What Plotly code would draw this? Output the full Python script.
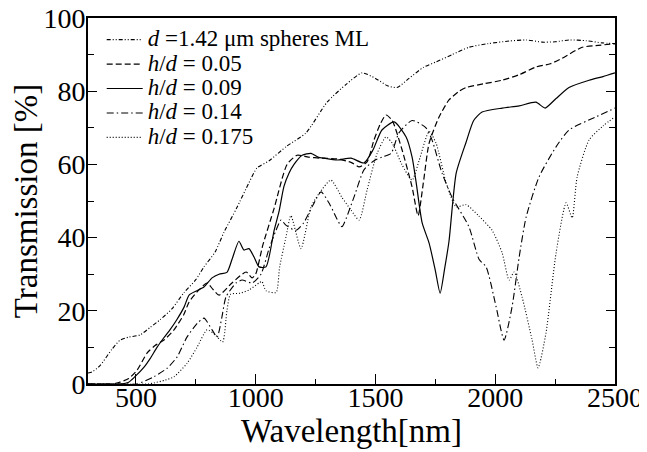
import plotly.graph_objects as go

# d = 1.42 um spheres ML
wl_ml = [300, 317, 350, 400, 434, 470, 517, 560, 600, 650, 701, 750, 784, 830, 868, 920, 972, 1005, 1056, 1130, 1210, 1298, 1380, 1444, 1500, 1550, 1590, 1640, 1700, 1753, 1820, 1890, 1970, 2058, 2130, 2196, 2250, 2308, 2380, 2446, 2500]
t_ml = [3, 3.3, 5, 9.5, 12, 12.8, 13.4, 15.5, 17.5, 20.5, 25, 28.5, 32, 36, 41.5, 48, 55, 59, 61, 65, 68.6, 77, 82, 85, 83.5, 81.5, 81, 83.5, 86.5, 88, 90, 92, 93, 93.7, 94, 93.4, 93.5, 94, 93.8, 93.2, 93]

# h/d = 0.05
wl_005 = [300, 400, 434, 470, 505, 547, 580, 617, 659, 700, 722, 760, 797, 820, 847, 901, 960, 985, 1000, 1030, 1077, 1131, 1173, 1220, 1273, 1340, 1400, 1432, 1465, 1494, 1520, 1544, 1570, 1611, 1653, 1678, 1700, 1724, 1766, 1807, 1850, 1878, 1950, 2029, 2100, 2170, 2230, 2279, 2363, 2430, 2500]
t_005 = [0, 0, 0.5, 1.5, 3.8, 8.5, 10.5, 12, 14.8, 19, 22.4, 25.5, 27.6, 26, 24.3, 27.6, 30.6, 29, 30, 38, 48, 60, 62.5, 62, 61.7, 61.5, 60.5, 59.3, 60.7, 66.7, 71, 73.5, 72, 64, 53.8, 46, 55, 65.8, 73, 77.6, 80, 81, 82, 83, 84.5, 86.6, 87.5, 89, 92, 92.5, 93]

# h/d = 0.09
wl_009 = [300, 400, 434, 470, 496, 534, 560, 588, 615, 642, 670, 701, 722, 755, 784, 818, 847, 880, 901, 930, 951, 972, 993, 1014, 1043, 1077, 1097, 1118, 1139, 1160, 1194, 1231, 1260, 1285, 1340, 1398, 1452, 1490, 1527, 1578, 1628, 1653, 1670, 1695, 1724, 1750, 1770, 1790, 1807, 1837, 1878, 1910, 1945, 2029, 2100, 2170, 2208, 2254, 2308, 2392, 2450, 2500]
t_009 = [0, 0, 0, 0.5, 2, 4.6, 7, 10, 12.5, 14.8, 17.5, 21, 24.3, 25.5, 26.5, 29, 30, 30.5, 34, 39, 36.6, 37, 34.7, 32, 32, 42, 47, 54, 57.6, 60, 62.5, 63, 62, 61.7, 61.2, 61.7, 60.4, 64, 69.4, 71.6, 67.5, 62, 55, 44, 38.5, 31, 24.8, 32, 39, 57.6, 66, 72, 74.3, 75.4, 76, 77, 75.4, 78, 81, 83, 84, 85]

# h/d = 0.14
wl_014 = [300, 450, 505, 576, 630, 672, 713, 755, 784, 818, 839, 859, 876, 918, 943, 985, 1022, 1056, 1085, 1106, 1126, 1168, 1200, 1240, 1273, 1310, 1340, 1360, 1410, 1452, 1494, 1527, 1565, 1598, 1653, 1711, 1736, 1778, 1820, 1890, 1933, 1962, 2004, 2037, 2070, 2100, 2129, 2183, 2254, 2308, 2421, 2500]
t_014 = [0, 0, 0, 2, 4.3, 7.4, 12.8, 16.5, 18, 14.8, 12.8, 18.3, 23.8, 27.6, 28.4, 27.6, 30, 37, 42, 44.8, 43.4, 42, 44, 49, 52.5, 49, 45, 43, 51, 58.5, 61, 62, 63, 68.6, 72, 70, 66.7, 57.6, 51, 43, 34, 32, 21, 12, 21, 34.7, 45.6, 56.6, 64.8, 69.4, 73, 75.4]

# h/d = 0.175
wl_0175 = [300, 550, 576, 620, 659, 713, 755, 797, 830, 862, 880, 895, 935, 972, 1014, 1026, 1043, 1085, 1100, 1126, 1147, 1189, 1231, 1264, 1314, 1360, 1398, 1432, 1465, 1507, 1544, 1570, 1610, 1653, 1682, 1724, 1753, 1795, 1837, 1878, 1930, 1987, 2029, 2058, 2079, 2112, 2154, 2179, 2212, 2254, 2296, 2321, 2342, 2392, 2450, 2500]
t_0175 = [0, 0, 0.3, 1, 2, 5.6, 10, 14.8, 13.5, 11.5, 20, 24.5, 24.8, 25.7, 27.6, 28, 25.5, 25, 32, 40, 46, 37, 48.4, 52, 55.7, 51, 47.5, 44.8, 53, 63, 67.5, 65.8, 60, 55.7, 61, 69, 65.8, 55, 48.4, 49, 46, 42, 35.8, 28.4, 30.6, 23.8, 12, 4.4, 14, 35.8, 49.5, 45.4, 56.6, 66.7, 70.5, 73]

legend_names = [
    "<i>d</i> =1.42 μm spheres ML",
    "<i>h</i>/<i>d</i> = 0.05",
    "<i>h</i>/<i>d</i> = 0.09",
    "<i>h</i>/<i>d</i> = 0.14",
    "<i>h</i>/<i>d</i> = 0.175",
]

series = [
    (legend_names[0], wl_ml, t_ml, "4px,2px,1px,2px,1px,2px", 1.1),
    (legend_names[1], wl_005, t_005, "6px,3px", 1.2),
    (legend_names[2], wl_009, t_009, "solid", 1.2),
    (legend_names[3], wl_014, t_014, "7px,3px,1.5px,3px", 1.1),
    (legend_names[4], wl_0175, t_0175, "1px,2px", 1.1),
]

fig = go.Figure()
for name, x, y, dash, w in series:
    fig.add_trace(go.Scatter(
        x=x, y=y, mode="lines",
        name='<span style="font-size:23px">' + name + "</span>",
        line=dict(color="black", width=w, dash=dash, shape="spline", smoothing=0.6),
    ))

font_family = "Liberation Serif, Times New Roman, serif"

# page body has an 8px margin, so the figure is sized 8px smaller
fig.update_layout(
    width=639, height=444,
    margin=dict(l=80, r=32, t=10, b=68, autoexpand=False),
    paper_bgcolor="white", plot_bgcolor="white",
    font=dict(family=font_family, color="black"),
    showlegend=True,
    legend=dict(
        x=0.026, y=0.988, xanchor="left", yanchor="top",
        bgcolor="rgba(0,0,0,0)", borderwidth=0,
        font=dict(family=font_family, size=16.5, color="black"),
        tracegroupgap=0, itemwidth=36,
    ),
    xaxis=dict(
        automargin=False,
        range=[300, 2500], tick0=0, dtick=500,
        ticks="inside", ticklen=10, tickwidth=1.2, tickcolor="black",
        minor=dict(dtick=250, ticks="inside", ticklen=5, tickwidth=1.2, tickcolor="black"),
        showline=True, linecolor="black", linewidth=1.6, mirror=True,
        showgrid=False, zeroline=False,
        ticklabelstandoff=-12, ticklabeloverflow="allow",
        tickfont=dict(family=font_family, size=28, color="black"),
        title=dict(text="Wavelength[nm]", font=dict(family=font_family, size=33, color="black"), standoff=0),
    ),
    yaxis=dict(
        automargin=False,
        range=[0, 100], tick0=0, dtick=20,
        ticks="inside", ticklen=9, tickwidth=1.2, tickcolor="black",
        minor=dict(dtick=10, ticks="inside", ticklen=6, tickwidth=1.2, tickcolor="black"),
        showline=True, linecolor="black", linewidth=1.6, mirror="ticks",
        showgrid=False, zeroline=False,
        ticklabelstandoff=-5, ticklabeloverflow="allow",
        tickfont=dict(family=font_family, size=28, color="black"),
        title=dict(text="Transmission [%]", font=dict(family=font_family, size=33, color="black"), standoff=0),
    ),
)

fig.write_html("out.html")
